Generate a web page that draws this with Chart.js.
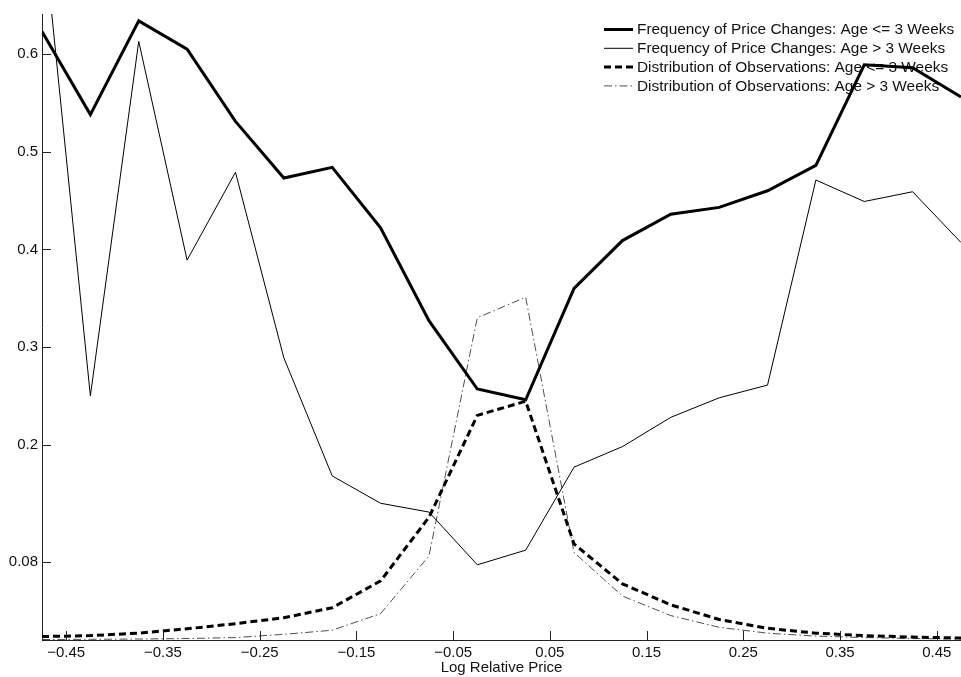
<!DOCTYPE html>
<html lang="en">
<head>
    <meta charset="UTF-8">
    <title>Log Relative Price</title>
    <style>
        body {
            margin: 0;
            background: #fff;
        }
        #chart-container {
            width: 961px;
            height: 677px;
        }
    </style>
</head>
<body>
    <div id="chart-container">
        <canvas id="price-chart"></canvas>
    </div>

    <script src="https://cdn.jsdelivr.net/npm/chart.js"></script>
    <script>
        // bin centres of log relative price
        const logPrice = [-0.475, -0.425, -0.375, -0.325, -0.275, -0.225, -0.175, -0.125, -0.075, -0.025,
                          0.025, 0.075, 0.125, 0.175, 0.225, 0.275, 0.325, 0.375, 0.425, 0.475];

        const freqYoung = [0.623, 0.538, 0.634, 0.605, 0.531, 0.473, 0.484, 0.422, 0.327, 0.257,
                           0.246, 0.360, 0.409, 0.436, 0.443, 0.460, 0.486, 0.589, 0.586, 0.556];
        const freqOld = [0.740, 0.250, 0.613, 0.389, 0.479, 0.289, 0.168, 0.140, 0.131, 0.077,
                         0.092, 0.177, 0.198, 0.228, 0.248, 0.261, 0.471, 0.449, 0.459, 0.407];
        const distYoung = [0.0035, 0.0045, 0.007, 0.0115, 0.0167, 0.0228, 0.033, 0.0605, 0.1256, 0.230,
                           0.2445, 0.0983, 0.0575, 0.036, 0.021, 0.012, 0.007, 0.0045, 0.003, 0.002];
        const distOld = [0.0005, 0.0007, 0.001, 0.0015, 0.0025, 0.0058, 0.010, 0.027, 0.086, 0.330,
                         0.351, 0.0896, 0.045, 0.025, 0.013, 0.007, 0.004, 0.0025, 0.0015, 0.001];

        const seriesLabels = [
            'Frequency of Price Changes: Age <= 3 Weeks',
            'Frequency of Price Changes: Age > 3 Weeks',
            'Distribution of Observations: Age <= 3 Weeks',
            'Distribution of Observations: Age > 3 Weeks'
        ];

        const xTicks = [-0.45, -0.35, -0.25, -0.15, -0.05, 0.05, 0.15, 0.25, 0.35, 0.45];
        const yTicks = [0.08, 0.2, 0.3, 0.4, 0.5, 0.6];

        const FONT = '"Liberation Sans", Arial, Helvetica, sans-serif';
        const INK = '#111';

        function toPoints(values) {
            return values.map((v, i) => ({ x: logPrice[i], y: v }));
        }

        function fmt(v) {
            const s = Math.abs(v).toFixed(2).replace(/^0\.(\d)0$/, '0.$1');
            return (v < 0 ? '\u2212' : '') + s;
        }

        // MATLAB-style inward tick marks
        const inwardTicks = {
            id: 'inwardTicks',
            afterDraw(chart) {
                const { ctx, chartArea, scales } = chart;
                ctx.save();
                ctx.strokeStyle = '#222';
                ctx.lineWidth = 1;
                ctx.beginPath();
                xTicks.forEach(t => {
                    const px = Math.round(scales.x.getPixelForValue(t)) + 0.5;
                    ctx.moveTo(px, chartArea.bottom);
                    ctx.lineTo(px, chartArea.bottom - 9);
                });
                yTicks.forEach(t => {
                    const py = Math.round(scales.y.getPixelForValue(t)) + 0.5;
                    ctx.moveTo(chartArea.left, py);
                    ctx.lineTo(chartArea.left + 9, py);
                });
                ctx.stroke();
                ctx.restore();
            }
        };

        // legend without box, top right
        const lineLegend = {
            id: 'lineLegend',
            beforeDatasetsDraw(chart) {
                const ctx = chart.ctx;
                ctx.save();
                ctx.font = '15.4px ' + FONT;
                ctx.textBaseline = 'middle';
                ctx.fillStyle = INK;
                chart.data.datasets.forEach((ds, i) => {
                    const y = 29.5 + i * 18.8;
                    ctx.beginPath();
                    ctx.strokeStyle = ds.borderColor;
                    ctx.lineWidth = ds.borderWidth;
                    ctx.setLineDash(ds.borderDash || []);
                    ctx.moveTo(604, y);
                    ctx.lineTo(633, y);
                    ctx.stroke();
                    ctx.fillText(ds.label, 637, y + 0.5);
                });
                ctx.restore();
            }
        };

        const ctx = document.getElementById('price-chart').getContext('2d');

        new Chart(ctx, {
            type: 'line',
            data: {
                datasets: [
                    { label: seriesLabels[0], data: toPoints(freqYoung), borderColor: '#000', borderWidth: 3 },
                    { label: seriesLabels[1], data: toPoints(freqOld), borderColor: '#000', borderWidth: 1 },
                    { label: seriesLabels[2], data: toPoints(distYoung), borderColor: '#000', borderWidth: 3, borderDash: [7, 4] },
                    { label: seriesLabels[3], data: toPoints(distOld), borderColor: '#222', borderWidth: 0.8, borderDash: [8, 3, 1.5, 3] }
                ]
            },
            options: {
                responsive: true,
                maintainAspectRatio: false,
                animation: false,
                layout: { padding: { top: 14, right: 0, left: 0, bottom: 0 } },
                elements: {
                    point: { radius: 0 },
                    line: { tension: 0, fill: false }
                },
                plugins: {
                    legend: { display: false },
                    tooltip: { enabled: false }
                },
                scales: {
                    x: {
                        type: 'linear',
                        min: -0.475,
                        max: 0.475,
                        afterBuildTicks: s => { s.ticks = xTicks.map(v => ({ value: v })); },
                        afterFit: s => { s.height = 37; },
                        grid: { display: false, drawTicks: false },
                        border: { display: true, color: '#222', width: 1 },
                        ticks: {
                            padding: 4,
                            maxRotation: 0,
                            autoSkip: false,
                            color: INK,
                            font: { family: FONT, size: 15 },
                            callback: v => fmt(v)
                        },
                        title: {
                            display: true,
                            text: 'Log Relative Price',
                            color: INK,
                            padding: { top: -1, bottom: 0 },
                            font: { family: FONT, size: 15 }
                        }
                    },
                    y: {
                        type: 'linear',
                        min: 0,
                        max: 0.641,
                        afterBuildTicks: s => { s.ticks = yTicks.map(v => ({ value: v })); },
                        afterFit: s => { s.width = 42; },
                        grid: { display: false, drawTicks: false },
                        border: { display: true, color: '#222', width: 1 },
                        ticks: {
                            padding: 4,
                            autoSkip: false,
                            color: INK,
                            font: { family: FONT, size: 15 },
                            callback: v => fmt(v)
                        }
                    }
                }
            },
            plugins: [inwardTicks, lineLegend]
        });
    </script>
</body>
</html>
